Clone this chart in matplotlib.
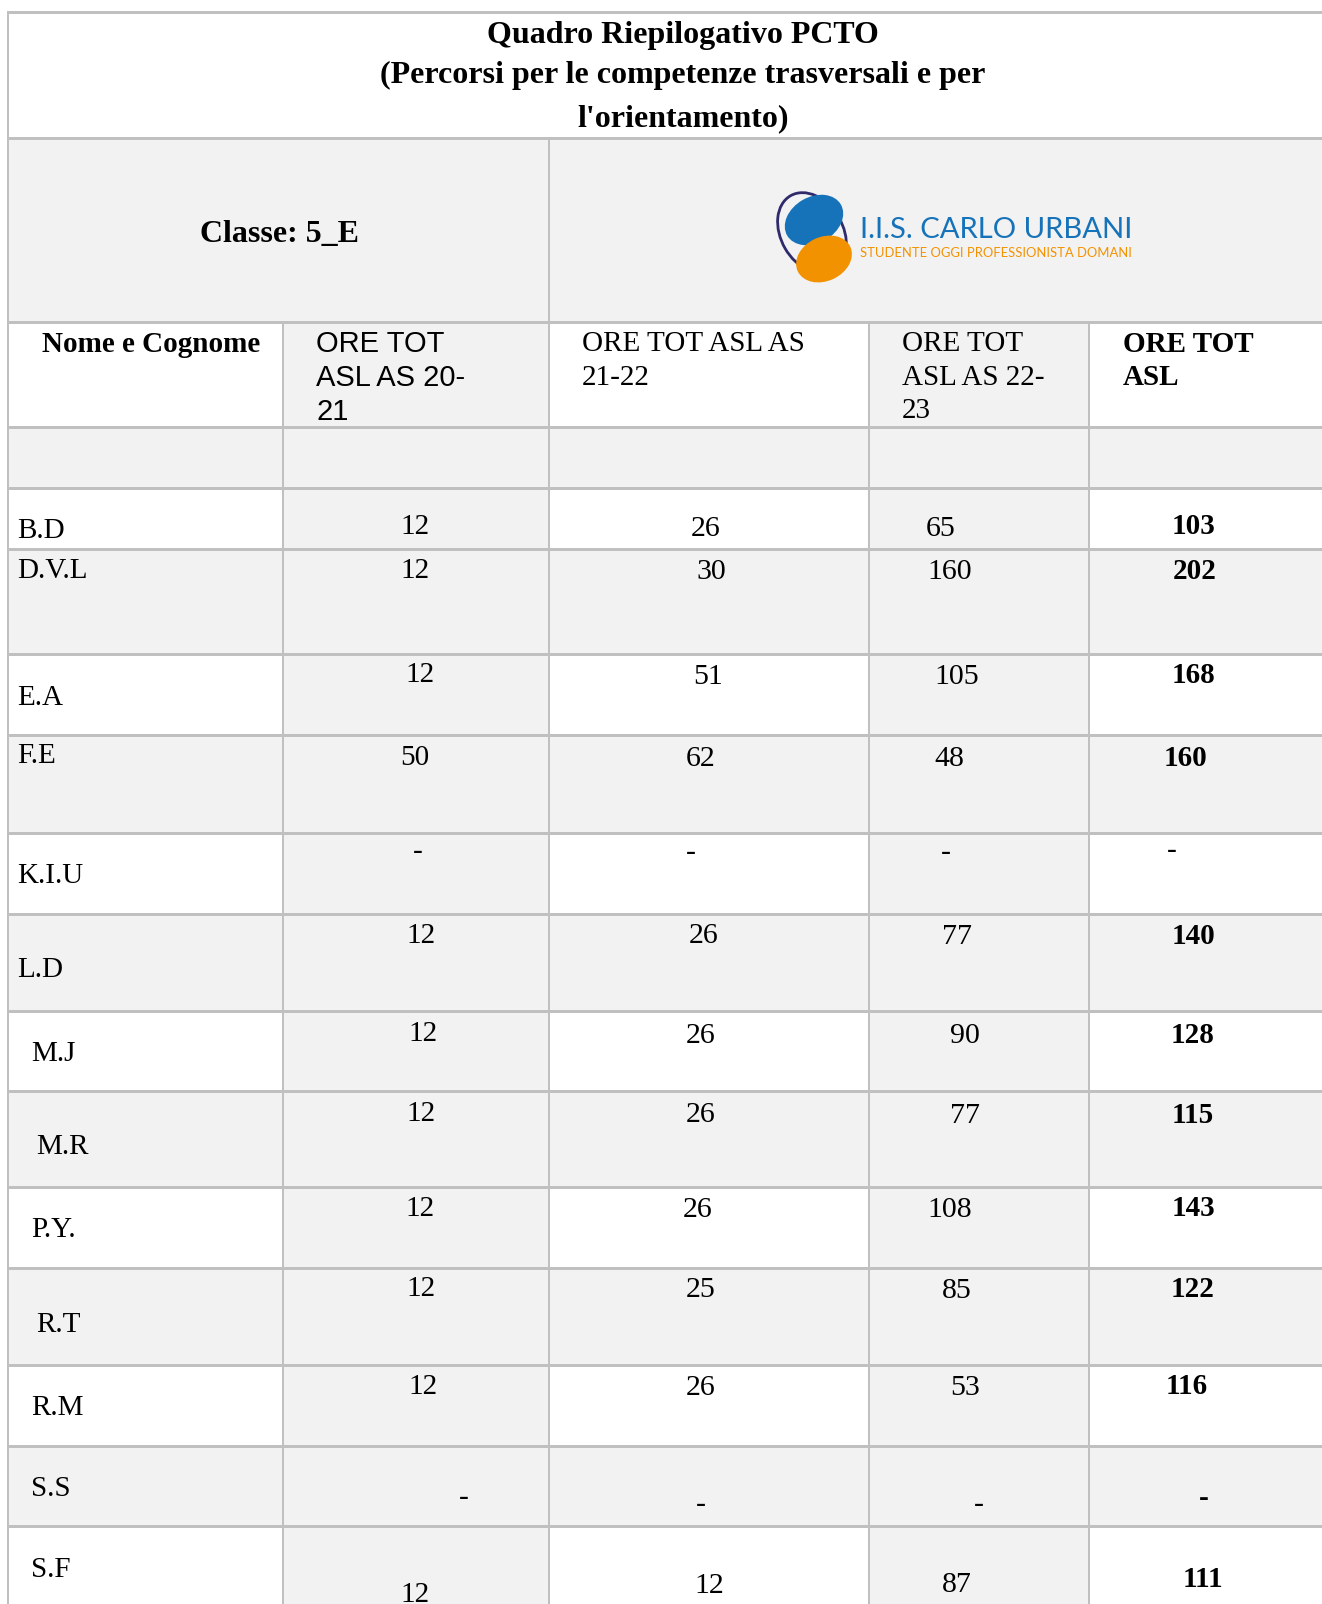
import matplotlib
matplotlib.use("Agg")
import matplotlib.pyplot as plt
from matplotlib.patches import Rectangle, Ellipse

# ---------------- data ----------------
title_lines = ["Quadro Riepilogativo PCTO",
               "(Percorsi per le competenze trasversali e per",
               "l'orientamento)"]
classe_label = "Classe: 5_E"
logo_name = "I.I.S. CARLO URBANI"
logo_motto = "STUDENTE OGGI PROFESSIONISTA DOMANI"
header_name = "Nome e Cognome"
header_as2021 = ["ORE TOT", "ASL AS 20-", "21"]
header_as2122 = ["ORE TOT ASL AS", "21-22"]
header_as2223 = ["ORE TOT", "ASL AS 22-", "23"]
header_total = ["ORE TOT", "ASL"]

students = ["B.D", "D.V.L", "E.A", "F.E", "K.I.U", "L.D", "M.J", "M.R",
            "P.Y.", "R.T", "R.M", "S.S", "S.F"]
ore_2021 = ["12", "12", "12", "50", "-", "12", "12", "12", "12", "12", "12", "-", "12"]
ore_2122 = ["26", "30", "51", "62", "-", "26", "26", "26", "26", "25", "26", "-", "12"]
ore_2223 = ["65", "160", "105", "48", "-", "77", "90", "77", "108", "85", "53", "-", "87"]
ore_tot = ["103", "202", "168", "160", "-", "140", "128", "115", "143", "122", "116", "-", "111"]

# ---------------- layout ----------------
W, H, DPI = 1322, 1604, 100
row_edges = [12, 138, 322, 427, 488, 549, 654, 735, 833, 914, 1011, 1091,
             1187, 1268, 1365, 1446, 1526, 1604]
col_edges = [8, 283, 549, 869, 1089, 1322]

name_x = [17, 17, 17, 17, 17, 17, 31, 36, 31, 36, 31, 31, 31]
name_y = [528, 568, 695, 753, 873, 967, 1051, 1144, 1227, 1322, 1405, 1486, 1567]
c2_x = [415, 415, 420, 415, 418, 421, 423, 421, 420, 421, 423, 464, 415]
c2_y = [524, 568, 672, 755, 852, 933, 1031, 1111, 1206, 1286, 1384, 1498, 1592]
c3_x = [706, 711, 708, 701, 691, 704, 701, 701, 698, 701, 701, 701, 709]
c3_y = [526, 569, 674, 756, 853, 933, 1033, 1112, 1207, 1287, 1385, 1505, 1583]
c4_x = [941, 950, 957, 949, 946, 957, 965, 965, 950, 957, 965, 979, 957]
c4_y = [526, 569, 674, 756, 853, 934, 1033, 1113, 1207, 1288, 1385, 1505, 1582]
c5_x = [1193, 1195, 1193, 1186, 1172, 1193, 1193, 1193, 1193, 1193, 1187, 1204, 1203]
c5_y = [524, 569, 673, 756, 851, 934, 1033, 1113, 1206, 1287, 1384, 1499, 1577]
c5_weight = ["bold"] * 4 + ["normal"] + ["bold"] * 8

GRAY = "#f2f2f2"
LINE = "#c0c0c0"
SERIF = ["Liberation Serif", "DejaVu Serif"]
SANS = ["Liberation Sans", "DejaVu Sans"]

fig = plt.figure(figsize=(W / DPI, H / DPI), dpi=DPI)
fig.patch.set_facecolor("white")
ax = fig.add_axes([0, 0, 1, 1])
ax.set_xlim(0, W)
ax.set_ylim(H, 0)
ax.axis("off")


def cell(x0, x1, y0, y1, color):
    ax.add_patch(Rectangle((x0, y0), x1 - x0, y1 - y0, facecolor=color,
                           edgecolor="none", zorder=0))


def put(x, yc, s, size=21, weight="normal", family=SERIF, ha="center",
        color="black", cap=0.34):
    px = size * DPI / 72.0
    off = 0.23 * px if s.strip() == "-" else cap * px
    ax.text(x, yc + off, s, ha=ha, va="baseline", fontsize=size,
            fontweight=weight, family=family, color=color, zorder=5)


# ---------------- cell backgrounds ----------------
cell(col_edges[0], W, row_edges[1], row_edges[2], GRAY)
cell(col_edges[1], col_edges[2], row_edges[2], row_edges[3], GRAY)
cell(col_edges[3], col_edges[4], row_edges[2], row_edges[3], GRAY)
cell(col_edges[0], W, row_edges[3], row_edges[4], GRAY)
for i in range(len(students)):
    y0, y1 = row_edges[4 + i], row_edges[5 + i]
    if i % 2 == 1:
        cell(col_edges[0], W, y0, y1, GRAY)
    else:
        cell(col_edges[1], col_edges[2], y0, y1, GRAY)
        cell(col_edges[3], col_edges[4], y0, y1, GRAY)

# ---------------- grid lines ----------------
hlw = 3 * 72 / DPI
vlw = 2 * 72 / DPI
for y in row_edges[:-1]:
    ax.plot([col_edges[0] - 1, W], [y, y], color=LINE, lw=hlw, zorder=2,
            solid_capstyle="butt")
ax.plot([col_edges[0], col_edges[0]], [row_edges[0], H], color=LINE, lw=vlw, zorder=2)
ax.plot([col_edges[2], col_edges[2]], [row_edges[1], H], color=LINE, lw=vlw, zorder=2)
for x in (col_edges[1], col_edges[3], col_edges[4]):
    ax.plot([x, x], [row_edges[2], H], color=LINE, lw=vlw, zorder=2)

# ---------------- title ----------------
for yc, line in zip([32, 72, 115], title_lines):
    put(683, yc, line, size=23, weight="bold")

# ---------------- classe + logo ----------------
put(279, 231, classe_label, size=23, weight="bold")

ax.add_patch(Ellipse((812, 233), 62, 86, angle=-30, facecolor="none",
                     edgecolor="#2e2a6b", lw=2, zorder=3))
ax.add_patch(Ellipse((814, 220), 62, 46, angle=-30, facecolor="#1673b9",
                     edgecolor="none", zorder=4))
ax.add_patch(Ellipse((824, 259), 58, 44, angle=-25, facecolor="#f39200",
                     edgecolor="none", zorder=4))

renderer = fig.canvas.get_renderer()


def fitted(x, yc, s, width, size, color, cap):
    t = ax.text(x, yc, s, ha="left", va="baseline", fontsize=size,
                family=["Lato", "DejaVu Sans"], color=color, zorder=5)
    w = t.get_window_extent(renderer).width
    size = size * width / w
    t.set_fontsize(size)
    t.set_y(yc + cap * size * DPI / 72.0)


fitted(860, 227, logo_name, 272, 22, "#1673b9", 0.36)
fitted(860, 252, logo_motto, 272, 11, "#f39200", 0.36)

# ---------------- header ----------------
put(42, 342, header_name, size=21, weight="bold", ha="left")
for yc, line in zip([341, 376, 410], header_as2021):
    put(316, yc, line, size=21, family=SANS, ha="left", cap=0.36)
for yc, line in zip([341, 375], header_as2122):
    put(582, yc, line, size=21, ha="left")
for yc, line in zip([341, 375, 408], header_as2223):
    put(902, yc, line, size=21, ha="left")
for yc, line in zip([342, 375], header_total):
    put(1123, yc, line, size=21, weight="bold", ha="left")

# ---------------- body ----------------
for i, name in enumerate(students):
    put(name_x[i], name_y[i], name, ha="left")
    put(c2_x[i], c2_y[i], ore_2021[i])
    put(c3_x[i], c3_y[i], ore_2122[i], size=21.5)
    put(c4_x[i], c4_y[i], ore_2223[i], size=21.5)
    put(c5_x[i], c5_y[i], ore_tot[i], weight=c5_weight[i])

fig.savefig("out.png", dpi=DPI, facecolor="white")
